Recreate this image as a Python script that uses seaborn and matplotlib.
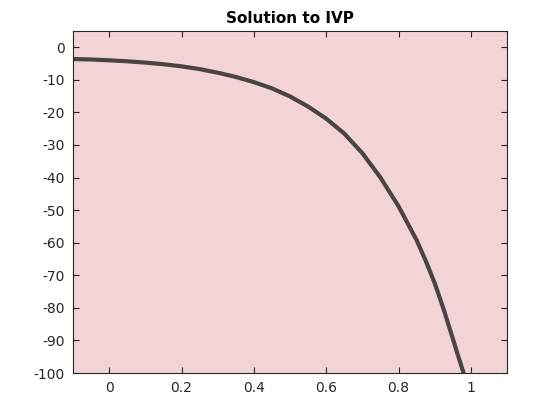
import matplotlib
matplotlib.use("Agg")
import matplotlib.pyplot as plt
import seaborn as sns
import pandas as pd

t_values = [-0.1, -0.05, 0.0, 0.05, 0.1, 0.15, 0.2, 0.25, 0.3, 0.35, 0.4,
            0.45, 0.5, 0.55, 0.6, 0.65, 0.7, 0.75, 0.8, 0.85, 0.875, 0.9,
            0.925, 0.95, 0.965, 0.98]
y_values = [-3.6, -3.75, -4.0, -4.3, -4.7, -5.2, -5.85, -6.7, -7.8, -9.1, -10.7,
            -12.6, -15.1, -18.2, -21.9, -26.5, -32.5, -40.0, -48.8, -59.2,
            -65.5, -72.4, -80.5, -89.4, -94.8, -100.0]
x_ticks = [0, 0.2, 0.4, 0.6, 0.8, 1]
x_tick_labels = ["0", "0.2", "0.4", "0.6", "0.8", "1"]
y_ticks = [0, -10, -20, -30, -40, -50, -60, -70, -80, -90, -100]
y_tick_labels = [str(v) for v in y_ticks]
title = "Solution to IVP"

df = pd.DataFrame({"t": t_values, "y": y_values})

sns.set_style("ticks")
plt.rcParams["font.family"] = ["DejaVu Sans"]

fig = plt.figure(figsize=(5.6, 4.2), dpi=100)
ax = fig.add_axes([0.1304, 0.1119, 0.775, 0.8143])
ax.set_facecolor("#f2d4d7")

sns.lineplot(data=df, x="t", y="y", ax=ax, color="#4a4444", linewidth=3.0,
             estimator=None, sort=False)
ax.lines[0].set_solid_joinstyle("round")

ax.set_xlim(-0.1, 1.1)
ax.set_ylim(-100, 5)
ax.set_xticks(x_ticks)
ax.set_xticklabels(x_tick_labels)
ax.set_yticks(y_ticks)
ax.set_yticklabels(y_tick_labels)
ax.set_xlabel("")
ax.set_ylabel("")
ax.tick_params(direction="in", top=True, right=True, length=4, width=0.8,
               labelsize=10, colors="#262626", pad=6)
for s in ax.spines.values():
    s.set_visible(True)
    s.set_color("#262626")
    s.set_linewidth(0.8)
ax.set_title(title, fontsize=11, fontweight="bold", color="black", pad=6)

fig.savefig("out.png", dpi=100, facecolor="white")
